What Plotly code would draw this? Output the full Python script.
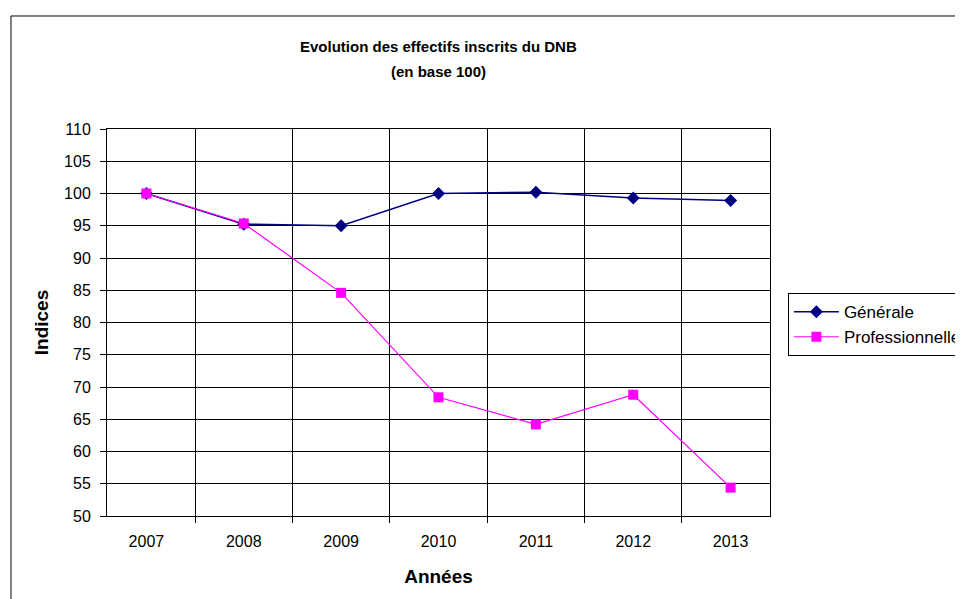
import plotly.graph_objects as go

years = ["2007", "2008", "2009", "2010", "2011", "2012", "2013"]
generale = [100.0, 95.25, 95.0, 100.0, 100.2, 99.3, 98.9]
professionnelle = [100.0, 95.35, 84.6, 68.4, 64.2, 68.8, 54.4]
title_lines = ["Evolution des effectifs inscrits du DNB", "(en base 100)"]

FONT = "Liberation Sans, Arial, sans-serif"

fig = go.Figure()
fig.add_trace(
    go.Scatter(
        x=years,
        y=generale,
        mode="lines+markers",
        name="Générale",
        line=dict(color="#000080", width=1.5),
        marker=dict(symbol="diamond", size=10, color="#000080"),
    )
)
fig.add_trace(
    go.Scatter(
        x=years,
        y=professionnelle,
        mode="lines+markers",
        name="Professionnelle",
        line=dict(color="#FF00FF", width=1.2),
        marker=dict(symbol="square", size=10, color="#FF00FF"),
    )
)

# outer chart border (runs off the page at right and bottom, like the original)
fig.add_shape(
    type="rect",
    xref="paper",
    yref="paper",
    x0=-0.1448,
    x1=1.32,
    y0=-0.26,
    y1=1.292,
    line=dict(color="black", width=1),
    layer="below",
)

# two-line title, placed as annotations for the wider line spacing
for text, ypos in zip(title_lines, [1.2119, 1.1473]):
    fig.add_annotation(
        text=f"<b>{text}</b>",
        xref="paper",
        yref="paper",
        x=0.5,
        y=ypos,
        xanchor="center",
        yanchor="middle",
        showarrow=False,
        font=dict(family=FONT, size=15, color="black"),
    )

# the page body adds an 8px offset, so margins are reduced by 8
fig.update_layout(
    width=963,
    height=599,
    margin=dict(l=99, r=201, t=121, b=91, autoexpand=False),
    paper_bgcolor="white",
    plot_bgcolor="white",
    font=dict(family=FONT, size=16, color="black"),
    xaxis=dict(
        type="category",
        tickson="boundaries",
        showgrid=True,
        gridcolor="black",
        gridwidth=1,
        ticks="outside",
        ticklen=6,
        tickcolor="black",
        ticklabelstandoff=11,
        tickfont=dict(size=16),
        showline=True,
        linecolor="black",
        mirror=True,
        title=dict(text="<b>Années</b>", font=dict(family=FONT, size=19), standoff=20),
    ),
    yaxis=dict(
        range=[50, 110],
        dtick=5,
        showgrid=True,
        gridcolor="black",
        gridwidth=1,
        ticks="outside",
        ticklen=6,
        tickcolor="black",
        ticklabelstandoff=6,
        tickfont=dict(size=16),
        showline=True,
        linecolor="black",
        mirror=True,
        zeroline=False,
        title=dict(text="<b>Indices</b>", font=dict(family=FONT, size=19), standoff=10),
    ),
    legend=dict(
        x=1.027,
        y=0.576,
        xanchor="left",
        yanchor="top",
        bordercolor="black",
        borderwidth=1,
        bgcolor="white",
        itemwidth=45,
        font=dict(family=FONT, size=17),
        tracegroupgap=0,
    ),
)

fig.write_html("out.html")
